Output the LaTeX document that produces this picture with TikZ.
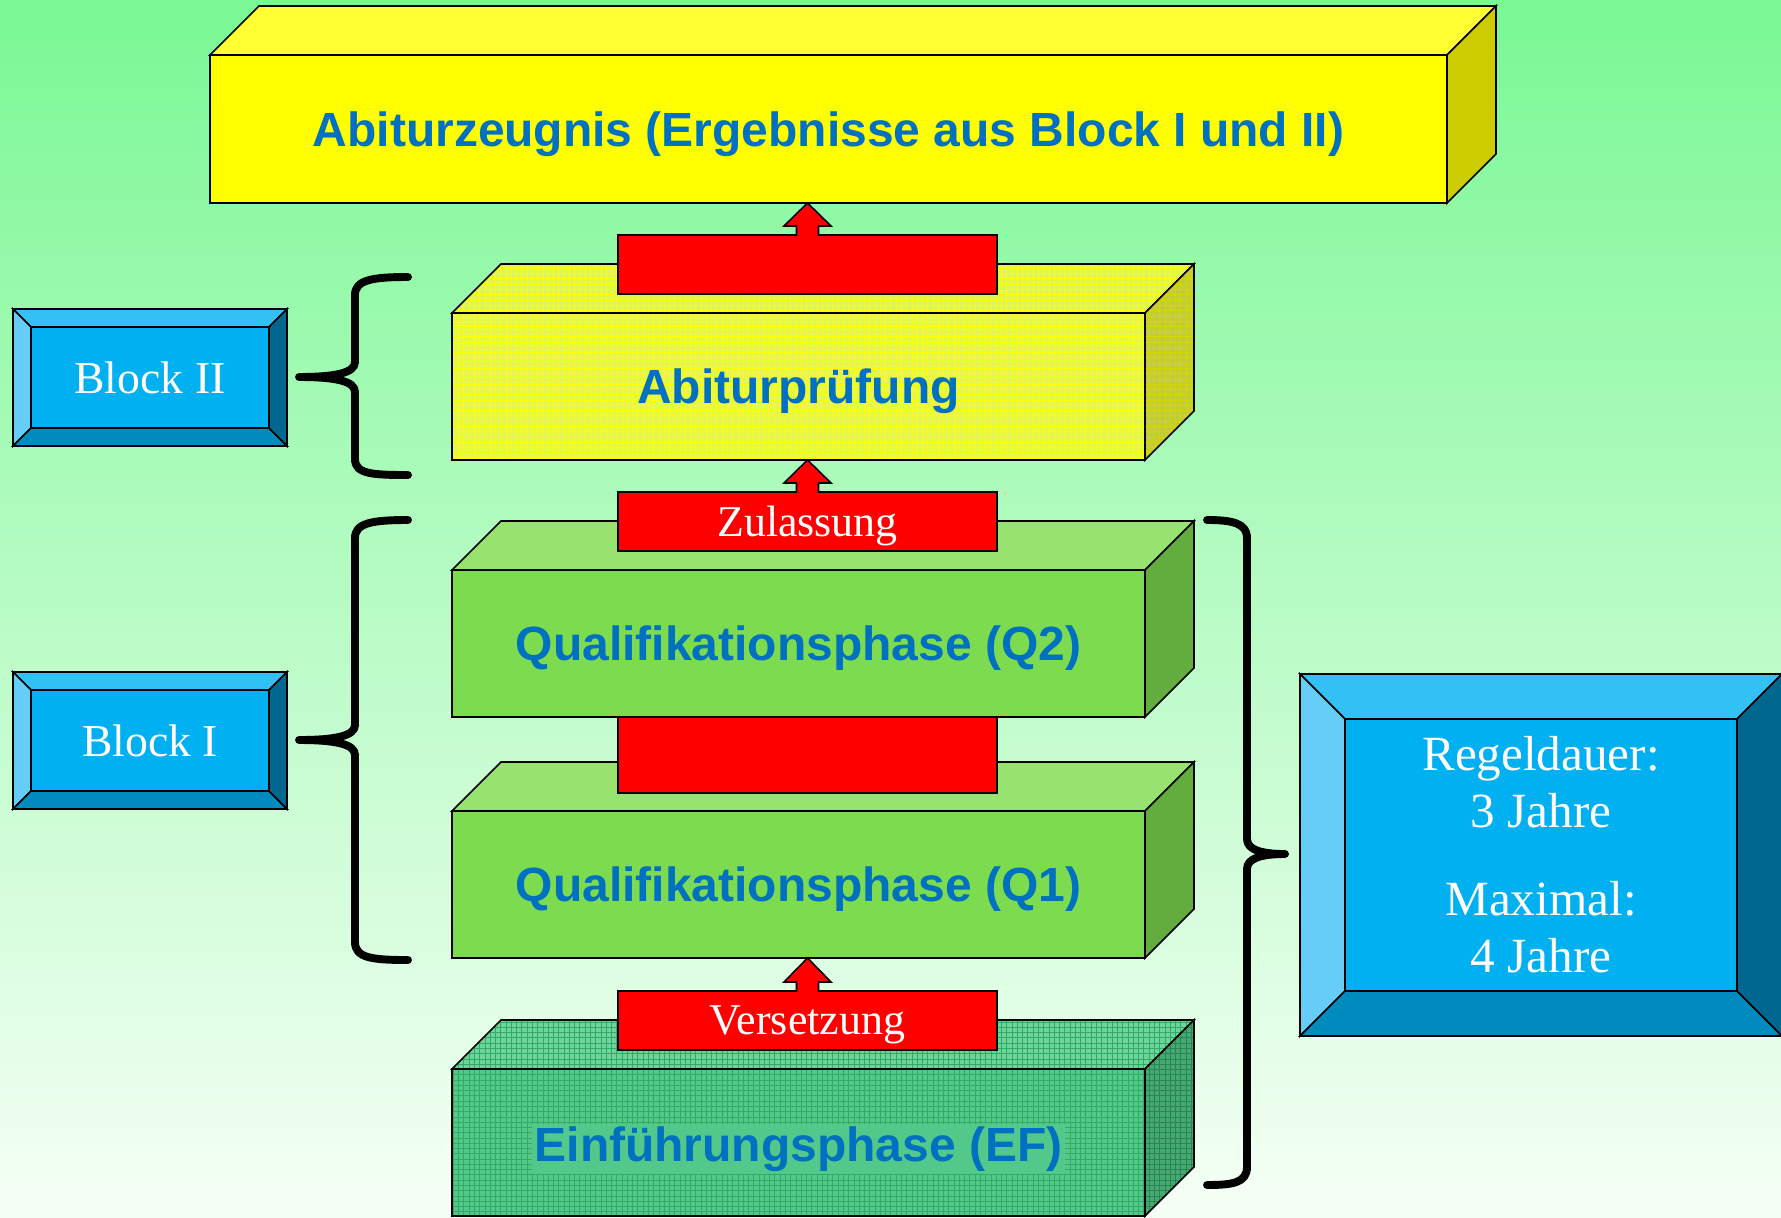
\documentclass[tikz,border=0pt]{standalone}
\usepackage{fontspec}
\setmainfont{Liberation Serif}
\setsansfont{Liberation Sans}
\usetikzlibrary{calc,patterns}
\definecolor{bgtop}{RGB}{122,248,148}
\definecolor{bgmid}{RGB}{195,250,205}
\definecolor{bgbot}{RGB}{246,255,246}
\definecolor{txtblue}{RGB}{0,112,192}
\definecolor{yfront}{RGB}{255,255,0}
\definecolor{ytop}{RGB}{255,255,51}
\definecolor{yside}{RGB}{204,204,0}
\definecolor{afront}{RGB}{226,248,80}
\definecolor{atop}{RGB}{222,244,92}
\definecolor{aside}{RGB}{192,204,58}
\definecolor{agrid}{RGB}{255,255,0}
\definecolor{agrids}{RGB}{214,214,0}
\definecolor{qfront}{RGB}{124,219,78}
\definecolor{qtop}{RGB}{152,226,112}
\definecolor{qside}{RGB}{98,173,62}
\definecolor{efront}{RGB}{84,200,136}
\definecolor{etop}{RGB}{110,212,156}
\definecolor{eside}{RGB}{70,168,114}
\definecolor{egrid}{RGB}{48,170,100}
\definecolor{egrids}{RGB}{40,135,80}
\definecolor{ehl}{RGB}{82,201,138}
\definecolor{bvin}{RGB}{0,176,240}
\definecolor{bvtop}{RGB}{51,192,245}
\definecolor{bvleft}{RGB}{102,205,248}
\definecolor{bvbot}{RGB}{0,139,190}
\definecolor{bvright}{RGB}{0,104,142}

\tikzset{
  face/.style={draw=black, line width=0.9pt},
  frontbox/.style={face, inner sep=0pt, outer sep=0pt,
    minimum width=693*0.02cm, minimum height=147*0.02cm,
    font=\sffamily\bfseries\fontsize{27.3}{32}\selectfont, text=txtblue, text depth=0pt},
  atopst/.style={preaction={fill=atop}, preaction={pattern=grid, pattern color=agrid}},
  asidest/.style={preaction={fill=aside}, preaction={pattern=grid, pattern color=agrids}},
  afrontst/.style={preaction={fill=afront}, preaction={pattern=grid, pattern color=agrid}},
  etopst/.style={preaction={fill=etop}, preaction={pattern=grid, pattern color=egrid}},
  esidest/.style={preaction={fill=eside}, preaction={pattern=grid, pattern color=egrids}},
  efrontst/.style={preaction={fill=efront}, preaction={pattern=grid, pattern color=egrid}},
  redbar/.style={fill=red, inner sep=0pt, outer sep=0pt, minimum width=379*0.02cm,
    text=white, font=\fontsize{25}{30}\selectfont, text depth=0pt},
  bevinner/.style={face, fill=bvin, inner sep=0pt, outer sep=0pt, text=white, align=center},
  bracestyle/.style={draw=black, line width=4.5pt, line cap=round, line join=round},
}

\newcommand\boxfaces[4]{%
  \draw[face, #2] (#1.north west) -- ($(#1.north west)+(#4,-#4)$) -- ($(#1.north east)+(#4,-#4)$) -- (#1.north east) -- cycle;
  \draw[face, #3] (#1.north east) -- ($(#1.north east)+(#4,-#4)$) -- ($(#1.south east)+(#4,-#4)$) -- (#1.south east) -- cycle;}

\newcommand\arrowhead[2]{%
  \fill[red] ($(#1.north)+(-11,1.5)$) -- ($(#1.north)+(-11,-9)$) -- ($(#1.north)+(-23.5,-9)$) -- (#1.north |- #2.south) -- ($(#1.north)+(23.5,-9)$) -- ($(#1.north)+(11,-9)$) -- ($(#1.north)+(11,1.5)$) -- cycle;
  \draw[face] (#1.south west) -- (#1.north west) -- ($(#1.north)+(-11,0)$) -- ($(#1.north)+(-11,-9)$) -- ($(#1.north)+(-23.5,-9)$) -- (#1.north |- #2.south) -- ($(#1.north)+(23.5,-9)$) -- ($(#1.north)+(11,-9)$) -- ($(#1.north)+(11,0)$) -- (#1.north east) -- (#1.south east) -- cycle;}

\newcommand\bevelframe[2]{%
  \draw[face, fill=bvtop] (#1.north west) -- ($(#1.north west)+(-#2,-#2)$) -- ($(#1.north east)+(#2,-#2)$) -- (#1.north east) -- cycle;
  \draw[face, fill=bvleft] (#1.north west) -- ($(#1.north west)+(-#2,-#2)$) -- ($(#1.south west)+(-#2,#2)$) -- (#1.south west) -- cycle;
  \draw[face, fill=bvbot] (#1.south west) -- ($(#1.south west)+(-#2,#2)$) -- ($(#1.south east)+(#2,#2)$) -- (#1.south east) -- cycle;
  \draw[face, fill=bvright] (#1.north east) -- ($(#1.north east)+(#2,-#2)$) -- ($(#1.south east)+(#2,#2)$) -- (#1.south east) -- cycle;}

\begin{document}
\begin{tikzpicture}[x=0.02cm, y=-0.02cm]
\useasboundingbox (0,0) rectangle (1781,1217);
\shade[top color=bgtop, middle color=bgmid, bottom color=bgbot] (0,0) rectangle (1781,1217);

% Abiturzeugnis
\node[frontbox, fill=yfront, minimum width=1237*0.02cm, minimum height=148*0.02cm] (zeug) at (828.5,129) {Abiturzeugnis (Ergebnisse aus Block I und II)};
\boxfaces{zeug}{fill=ytop}{fill=yside}{49}

% Abiturpruefung
\node[frontbox, afrontst] (abi) at (798.5,386.5) {Abiturprüfung};
\boxfaces{abi}{atopst}{asidest}{49}

\node[redbar, minimum height=59*0.02cm] (r1) at (807.5,264.5) {};
\arrowhead{r1}{zeug}

% Q2
\node[frontbox, fill=qfront] (q2) at (798.5,643.5) {Qualifikationsphase (Q2)};
\boxfaces{q2}{fill=qtop}{fill=qside}{49}

\node[redbar, minimum height=59*0.02cm] (zul) at (807.5,521.5) {Zulassung};
\arrowhead{zul}{abi}

% Q1
\node[frontbox, fill=qfront] (q1) at (798.5,884.5) {Qualifikationsphase (Q1)};
\boxfaces{q1}{fill=qtop}{fill=qside}{49}

\node[redbar, face, minimum height=76*0.02cm] (rmid) at (807.5,755) {};

% EF
\node[frontbox, efrontst] (ef) at (798.5,1142.5) {{\fboxsep=1.5pt\colorbox{ehl}{Einführungsphase (EF)}}};
\boxfaces{ef}{etopst}{esidest}{49}

\node[redbar, minimum height=59*0.02cm] (vers) at (807.5,1020.5) {Versetzung};
\arrowhead{vers}{q1}

% Block boxes
\node[bevinner, minimum width=238*0.02cm, minimum height=101*0.02cm, font=\fontsize{26}{31}\selectfont] (b2) at (150,377.5) {Block II};
\bevelframe{b2}{18}
\node[bevinner, minimum width=238*0.02cm, minimum height=101*0.02cm, font=\fontsize{26}{31}\selectfont] (b1) at (150,740.5) {Block I};
\bevelframe{b1}{18}
\node[bevinner, minimum width=392*0.02cm, minimum height=272*0.02cm, font=\fontsize{28}{32.4}\selectfont] (dauer) at (1541,855) {Regeldauer:\\3 Jahre\\[17.6pt]Maximal:\\4 Jahre};
\bevelframe{dauer}{45}

% braces
\coordinate (t2) at (299,377);
\coordinate (t1) at (299,740);
\coordinate (tr) at (1285,854);
\draw[bracestyle] (408,277) .. controls (372,277) and (355,280) .. (355,295) -- (355,362) .. controls (355,373) and (335,377) .. (t2) .. controls (335,377) and (355,381) .. (355,392) -- (355,459) .. controls (355,474) and (372,475) .. (408,475);
\draw[bracestyle] (408,520) .. controls (372,520) and (355,523) .. (355,538) -- (355,725) .. controls (355,736) and (335,740) .. (t1) .. controls (335,740) and (355,744) .. (355,755) -- (355,942) .. controls (355,958) and (372,960) .. (408,960);
\draw[bracestyle] (1207,520) .. controls (1232,520) and (1247,523) .. (1247,538) -- (1247,839) .. controls (1247,850) and (1262,854) .. (tr) .. controls (1262,854) and (1247,858) .. (1247,869) -- (1247,1167) .. controls (1247,1183) and (1232,1185) .. (1207,1185);
\end{tikzpicture}
\end{document}
